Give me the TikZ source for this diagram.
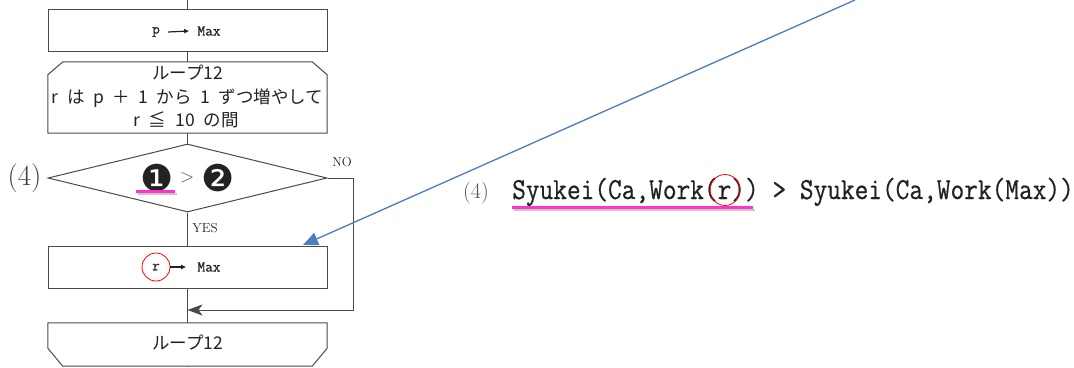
\documentclass[tikz,border=0pt]{standalone}
\usepackage{fontspec}
\usetikzlibrary{arrows.meta,shapes.geometric}
\newfontfamily\jpfont{Noto Sans CJK JP}
\newfontfamily\symfont{DejaVu Sans}
\newfontfamily\codefont{Latin Modern Mono}[FakeBold=0.6]
\definecolor{lineC}{HTML}{4A4A4A}
\definecolor{textC}{HTML}{222222}
\definecolor{pinkC}{HTML}{FF33CC}
\definecolor{blueC}{HTML}{4A7EC0}
\definecolor{grayT}{HTML}{555555}
\newcommand{\jsp}{\hspace{8.5pt}}
\newcommand{\ksp}{\hspace{9pt}}
\begin{document}
\begin{tikzpicture}[x=1pt,y=-1pt,
  flow/.style={draw=lineC, line width=1pt},
  procbox/.style={flow, rectangle, minimum width=279pt, minimum height=42pt, inner sep=0pt},
  txt/.style={text=textC, inner sep=0pt},
  jp/.style={txt, font=\jpfont\fontsize{17.5}{19}\selectfont},
  tt/.style={txt, font=\codefont\fontsize{15}{17}\selectfont},
  lbl/.style={txt, font=\fontsize{13}{15}\selectfont},
  tinyarrow/.style={draw=textC, line width=1.2pt, -{Latex[length=5pt,width=5pt]}},
  pinkline/.style={draw=pinkC, line width=3pt},
  shadowline/.style={draw=black!22, line width=2pt},
  redring/.style={draw=red, line width=0.8pt}]
\fill[white] (0,0) rectangle (1074,367);
\useasboundingbox (0,0) rectangle (1074,367);

% top / bottom free ends
\coordinate (top) at (187.5,0);
\coordinate (bottom) at (187.5,367);

% box 1
\node[procbox] (box1) at (187.5,30) {};
\node[tt] (p1) at (156,32) {p};
\node[tt] (max1) at (209,31) {Max};
\draw[tinyarrow] ([xshift=8pt]p1.east) -- ([xshift=-8pt]max1.west);

% loop start
\node[minimum width=279pt, minimum height=71pt, inner sep=0pt] (loopA) at (187.5,97.5) {};
\draw[flow] (loopA.south west) -- ([yshift=-13pt]loopA.north west) -- ([xshift=15pt]loopA.north west)
  -- ([xshift=-15pt]loopA.north east) -- ([yshift=-13pt]loopA.north east) -- (loopA.south east) -- cycle;
\node[jp] (la1) at (187.5,73) {ループ12};
\node[jp] (la2) at (187.5,98) {r\jsp は\jsp p\jsp ＋\jsp 1\jsp から\jsp 1\jsp ずつ増やして};
\node[jp] (la3) at (186,120) {r\ksp ≦\ksp 10\ksp の間};

% decision
\node[flow, diamond, minimum width=279pt, minimum height=68pt, inner sep=0pt, shape aspect=4] (dia) at (187.5,178) {};
\node[txt, font=\symfont\fontsize{37}{39}\selectfont] (c1) at (157.5,178) {❶};
\node[txt, font=\fontsize{19}{21}\selectfont, text=grayT] (gt) at (187,178) {>};
\node[txt, font=\symfont\fontsize{37}{39}\selectfont] (c2) at (218,178) {❷};
\draw[shadowline] (138,194) -- (177,194);
\draw[pinkline] (136,191) -- (175,191);
\node[txt, font=\fontsize{29}{31}\selectfont, text=black!75] (n4) at (24.5,178) {(4)};
\node[lbl] (no) at (342,162) {NO};
\node[lbl] (yes) at (205,228) {YES};

% box 2
\node[procbox] (box2) at (187.5,267) {};
\node[tt, circle, redring, minimum size=28pt] (r2) at (156,267) {r};
\node[tt] (max2) at (209,267) {Max};
\draw[tinyarrow] (r2.east) -- ([xshift=-11pt]max2.west);

% loop end
\node[minimum width=279pt, minimum height=43pt, inner sep=0pt] (loopB) at (187.5,344.5) {};
\draw[flow] (loopB.north west) -- (loopB.north east) -- ([yshift=18pt]loopB.south east)
  -- ([xshift=-15pt]loopB.south east) -- ([xshift=15pt]loopB.south west) -- ([yshift=18pt]loopB.south west) -- cycle;
\node[jp] (lb1) at (187.5,343) {ループ12};

% connectors
\coordinate (join) at (187.5,310);
\draw[flow] (top) -- (box1.north);
\draw[flow] (box1.south) -- (loopA.north);
\draw[flow] (loopA.south) -- (dia.north);
\draw[flow] (dia.south) -- (box2.north);
\draw[flow] (box2.south) -- (loopB.north);
\draw[flow] (loopB.south) -- (bottom);
\draw[flow, -{Stealth[length=15pt,width=11pt,inset=4pt]}] (dia.east) -- ++(26,0) |- (join);

% right formula
\node[txt, anchor=base, font=\fontsize{22}{24}\selectfont, text=grayT] (f4) at (476,198) {(4)};
\node[txt, anchor=base west, font=\codefont\fontsize{26.6}{28}\selectfont] (formula) at (512,199)
  {\scalebox{1}[1.15]{Syukei(Ca,Work(r)) > Syukei(Ca,Work(Max))}};
\draw[shadowline] (514,210) -- (755,210);
\draw[pinkline] (512,207) -- (753,207);
\node[redring, ellipse, minimum width=30pt, minimum height=31pt, inner sep=0pt] (rc) at (725,190) {};

% blue pointer
\coordinate (bluestart) at (855,0);
\coordinate (bluetip) at (303,245);
\draw[draw=blueC, line width=1.3pt, -{Triangle[length=15pt,width=13pt]}, fill=blueC] (bluestart) -- (bluetip);
\end{tikzpicture}
\end{document}
